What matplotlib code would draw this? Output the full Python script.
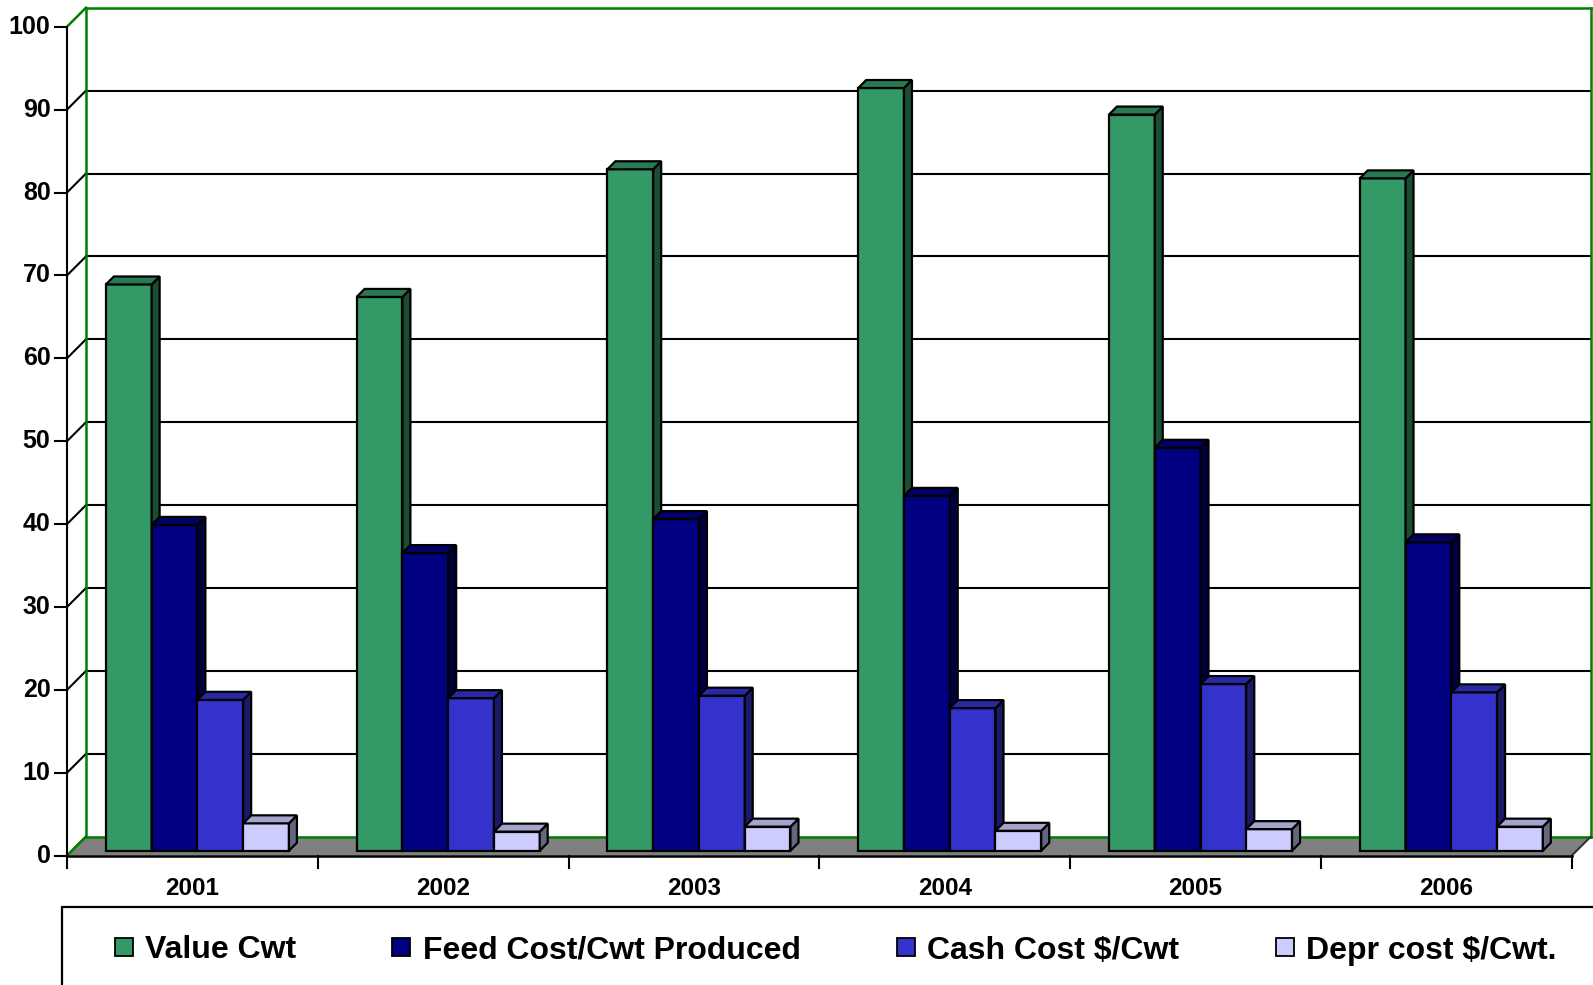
import matplotlib
matplotlib.use("Agg")
import matplotlib.pyplot as plt
from matplotlib.lines import Line2D
from matplotlib.patches import Polygon, Rectangle

# data
years = ["2001", "2002", "2003", "2004", "2005", "2006"]
value_cwt = [68.3, 66.8, 82.2, 92.0, 88.8, 81.1]
feed_cost = [39.3, 35.9, 40.0, 42.8, 48.6, 37.2]
cash_cost = [18.2, 18.4, 18.7, 17.2, 20.1, 19.1]
depr_cost = [3.3, 2.3, 2.9, 2.4, 2.6, 2.9]
series_names = ["Value Cwt", "Feed Cost/Cwt Produced", "Cash Cost $/Cwt", "Depr cost $/Cwt."]
y_ticks = [0, 10, 20, 30, 40, 50, 60, 70, 80, 90, 100]

series = [value_cwt, feed_cost, cash_cost, depr_cost]
front_cols = ["#339966", "#000080", "#3333CC", "#CCCCFF"]
top_cols = ["#297A52", "#000066", "#2929A3", "#A3A3CC"]
side_cols = ["#1A4D33", "#000040", "#1A1A66", "#666680"]
WALL_GREEN = "#008000"

W, H = 1593, 985
fig = plt.figure(figsize=(W / 100, H / 100), dpi=100)
ax = fig.add_axes([0, 0, 1, 1])
ax.axis("off")

# pixel geometry of the fake 3d box
X0, Y0 = 67, 855.7          # front origin (px from left / top)
PX_X = 250.78               # px per category
PX_Y = 8.29                 # px per value unit
ax.set_xlim(-X0 / PX_X, (W - X0) / PX_X)
ax.set_ylim((Y0 - H) / PX_Y, Y0 / PX_Y)


def off(px):
    return px / PX_X, px / PX_Y


n = len(years)
wx, wy = off(19)     # back wall depth
fx, fy = off(5)      # bar front depth
bx, by = off(13)     # bar back depth

# back wall gridlines + side-wall diagonals
for v in y_ticks:
    col = WALL_GREEN if v in (0, 100) else "black"
    lw = 1.8 if v in (0, 100) else 1.5
    ax.plot([0, wx], [v, v + wy], color=col, lw=lw, zorder=1)
    if v > 0:
        ax.plot([wx, n + wx], [v + wy, v + wy], color=col, lw=lw, zorder=1)
for xe in (wx, n + wx):
    ax.plot([xe, xe], [wy, 100 + wy], color=WALL_GREEN, lw=1.8, zorder=1)

# floor
floor = Polygon([(0, 0), (n, 0), (n + wx, wy), (wx, wy)], closed=True,
                facecolor="#808080", edgecolor="none", zorder=1.5)
ax.add_patch(floor)
ax.plot([wx, n + wx], [wy, wy], color=WALL_GREEN, lw=1.8, zorder=1.6)
ax.plot([0, wx], [0, wy], color=WALL_GREEN, lw=1.8, zorder=1.6)
ax.plot([n, n + wx], [0, wy], color="#333333", lw=1.5, zorder=1.6)

# axes lines and ticks
tx, _ = off(12)
_, ty = off(12)
ax.plot([0, 0], [0, 100], color="black", lw=1.5, zorder=2)
ax.plot([0, n], [0, 0], color="black", lw=1.8, zorder=2)
for v in y_ticks:
    ax.plot([-tx, 0], [v, v], color="black", lw=1.5, zorder=2)
    ax.text(-off(16.5)[0], v, str(v), ha="right", va="center",
            fontsize=18, fontweight="bold", family="Liberation Sans")
for i in range(n + 1):
    ax.plot([i, i], [0, -ty], color="black", lw=1.5, zorder=2)
for i, yr in enumerate(years):
    ax.text(i + 0.5, off(-32.5)[1], yr, ha="center", va="center",
            fontsize=17.5, fontweight="bold", family="Liberation Sans")

# bars
gap = 0.27
bw = (1 - gap) / len(series)
for j, vals in enumerate(series):
    z = 3 + j
    lefts = [i + gap / 2 + j * bw for i in range(n)]
    ax.bar([l + fx for l in lefts], vals, width=bw, bottom=fy, align="edge",
           color=front_cols[j], edgecolor="black", linewidth=1.6, zorder=z)
    for l, v in zip(lefts, vals):
        top = Polygon([(l + fx, v + fy), (l + fx + bw, v + fy),
                       (l + bx + bw, v + by), (l + bx, v + by)],
                      closed=True, facecolor=top_cols[j], edgecolor="black",
                      linewidth=1.6, zorder=z)
        side = Polygon([(l + fx + bw, fy), (l + bx + bw, by),
                        (l + bx + bw, v + by), (l + fx + bw, v + fy)],
                       closed=True, facecolor=side_cols[j], edgecolor="black",
                       linewidth=1.6, zorder=z)
        ax.add_patch(side)
        ax.add_patch(top)

# legend box (runs off the right and bottom edges)
fig.patches.append(Rectangle((62 / W, -0.2), 1.2, (H - 907) / H + 0.2,
                             transform=fig.transFigure, fill=False,
                             edgecolor="black", linewidth=1.6))
handles = [Line2D([], [], marker="s", ls="", markersize=13.5,
                  markerfacecolor=c, markeredgecolor="black", markeredgewidth=1.3)
           for c in front_cols]
fig.legend(handles, series_names, loc="center left",
           bbox_to_anchor=(112 / W, (H - 950.5) / H), ncol=4, frameon=False,
           prop={"family": "Liberation Sans", "weight": "bold", "size": 23},
           handlelength=0.72, handletextpad=0.3, columnspacing=2.95,
           borderpad=0, borderaxespad=0)

fig.savefig("out.png", dpi=100)
